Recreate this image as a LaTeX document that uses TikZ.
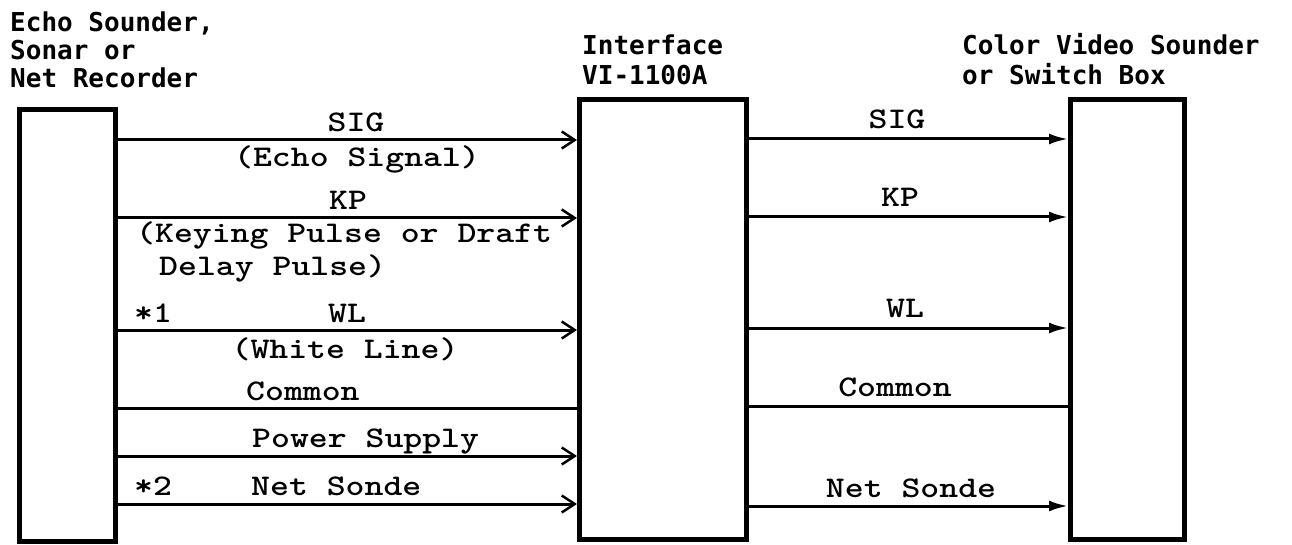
\documentclass[tikz,border=0pt]{standalone}
\usepackage{fontspec}
\usetikzlibrary{arrows.meta}
\newfontfamily\lblfont[FakeStretch=1.2]{lmmonolt10-bold.otf}
\newfontfamily\hdrfont{DejaVu Sans Mono}
\begin{document}
\begin{tikzpicture}[x=1pt,y=-1pt,
  unitbox/.style={draw,line width=5pt,inner sep=0pt},
  conn/.style={line width=3pt},
  inarr/.style={conn,-{Straight Barb[length=13pt,width=17pt,line width=2.5pt]}},
  outarr/.style={conn,-{Latex[length=19pt,width=11pt]}},
  lbl/.style={inner sep=0pt,font=\lblfont\fontsize{30}{30}\selectfont},
  hdr/.style={inner sep=0pt,anchor=base west,font=\hdrfont\bfseries\fontsize{26}{26}\selectfont}]
\useasboundingbox (0,0) rectangle (1292,545);
\fill[white] (0,0) rectangle (1292,545);

% headers
\node[hdr] (h1) at (10,32) {Echo Sounder,};
\node[hdr] (h2) at (10,60) {Sonar or};
\node[hdr] (h3) at (10,88) {Net Recorder};
\node[hdr] (h4) at (582,55) {Interface};
\node[hdr] (h5) at (582,85) {VI-1100A};
\node[hdr] (h6) at (962,55) {Color Video Sounder};
\node[hdr] (h7) at (962,85) {or Switch Box};

% boxes
\node[unitbox,minimum width=96pt,minimum height=432pt] (L) at (67.5,325.5) {};
\node[unitbox,minimum width=167pt,minimum height=440pt] (M) at (663,319.5) {};
\node[unitbox,minimum width=114pt,minimum height=440pt] (R) at (1127.5,319.5) {};

% left connectors
\draw[inarr] (L.east |- 0,140) -- (M.west |- 0,140);
\draw[inarr] (L.east |- 0,218) -- (M.west |- 0,218);
\draw[inarr] (L.east |- 0,330) -- (M.west |- 0,330);
\draw[conn]  (L.east |- 0,408) -- (M.west |- 0,408);
\draw[inarr] (L.east |- 0,456) -- (M.west |- 0,456);
\draw[inarr] (L.east |- 0,504) -- (M.west |- 0,504);

% right connectors
\draw[outarr] (M.east |- 0,139) -- (R.west |- 0,139);
\draw[outarr] (M.east |- 0,217) -- (R.west |- 0,217);
\draw[outarr] (M.east |- 0,328) -- (R.west |- 0,328);
\draw[conn]   (M.east |- 0,406) -- (R.west |- 0,406);
\draw[outarr] (M.east |- 0,506) -- (R.west |- 0,506);

% left labels
\node[lbl,anchor=base] (t1) at (356,132) {SIG};
\node[lbl,anchor=base] (t2) at (357,167) {(Echo Signal)};
\node[lbl,anchor=base] (t3) at (348,210) {KP};
\node[lbl,anchor=base west] (t4) at (136,243) {(Keying Pulse or Draft};
\node[lbl,anchor=base west] (t5) at (159,275) {Delay Pulse)};
\node[lbl,anchor=base west] (t6) at (134,322) {*1};
\node[lbl,anchor=base] (t7) at (347,322) {WL};
\node[lbl,anchor=base] (t8) at (345,358) {(White Line)};
\node[lbl,anchor=base west] (t9) at (246,400) {Common};
\node[lbl,anchor=base west] (t10) at (252,447) {Power Supply};
\node[lbl,anchor=base west] (t11) at (134,495) {*2};
\node[lbl,anchor=base west] (t12) at (251,495) {Net Sonde};

% right labels
\node[lbl,anchor=base] (r1) at (897,129) {SIG};
\node[lbl,anchor=base] (r2) at (900,207) {KP};
\node[lbl,anchor=base] (r3) at (905,317) {WL};
\node[lbl,anchor=base] (r4) at (895,396) {Common};
\node[lbl,anchor=base] (r5) at (911,497) {Net Sonde};
\end{tikzpicture}
\end{document}
